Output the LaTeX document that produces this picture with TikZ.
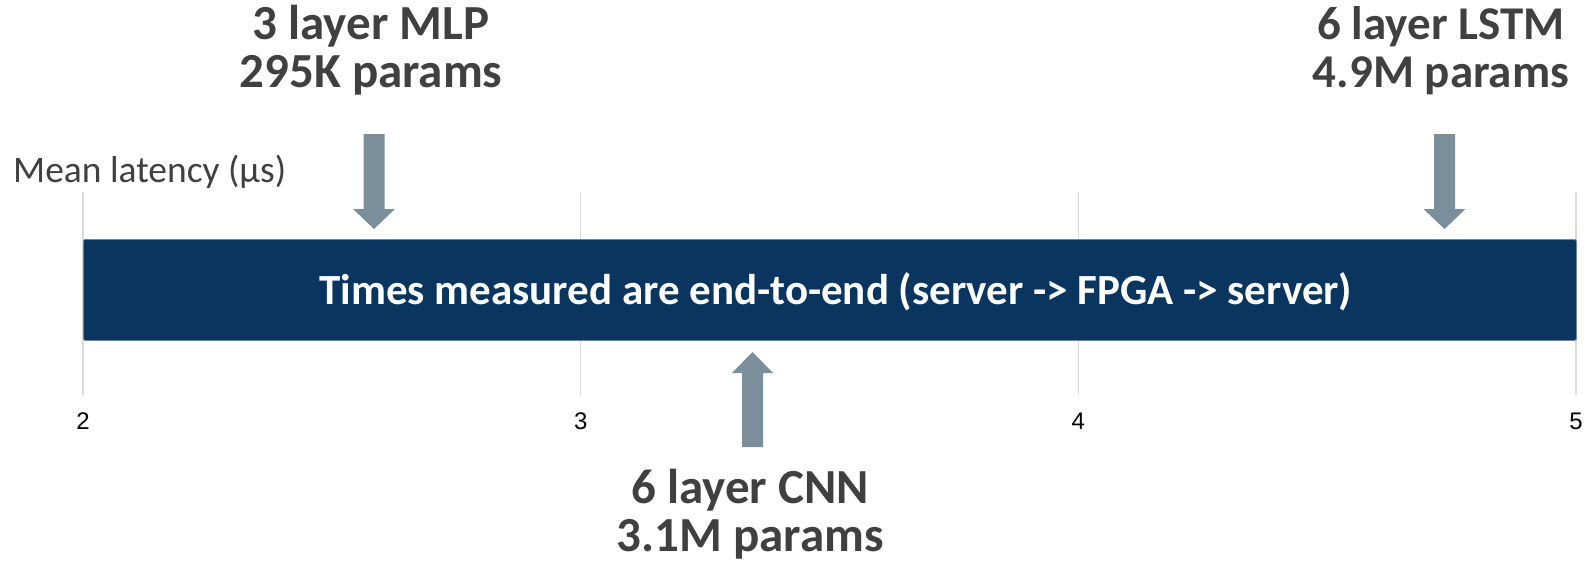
\documentclass[tikz,border=0pt]{standalone}
\usepackage{fontspec}
\setmainfont{Carlito}
\newfontfamily\axisfont{Liberation Sans}
\definecolor{navy}{HTML}{0A355F}
\definecolor{arrowgray}{HTML}{7A8F9B}
\definecolor{txtgray}{HTML}{404040}
\definecolor{gridgray}{HTML}{D9D9D9}
\begin{document}
\begin{tikzpicture}[x=1pt,y=-1pt,
  bigtxt/.style={anchor=base,inner sep=0pt,text=txtgray,font=\fontsize{49}{52}\selectfont\bfseries},
  ticklbl/.style={anchor=base,inner sep=0pt,text=black,font=\axisfont\fontsize{24}{26}\selectfont},
  grid/.style={draw=gridgray,line width=1.5pt},
  blockarrow/.style={fill=arrowgray}]
\useasboundingbox (0,0) rectangle (1587,568);
% gridlines
\foreach \x/\lab in {83/2,580.7/3,1078.3/4,1576/5}{
  \draw[grid] (\x,192) -- (\x,395);
  \node[ticklbl] (tick\lab) at (\x,429) {\lab};
}
% bar
\node[fill=navy,draw=navy!60!white,line width=0.8pt,rounded corners=2pt,minimum width=1493pt,minimum height=101pt,inner sep=0pt,anchor=north west] (bar) at (83,239) {};
\node[anchor=base,inner sep=0pt,text=white,font=\fontsize{43}{46}\selectfont\bfseries] (bartxt) at (836,304) {Times measured are end-to-end (server -> FPGA -> server)};
% axis title
\node[anchor=base west,inner sep=0pt,text=txtgray,font=\fontsize{37.5}{40}\selectfont] (axtitle) at (13,182) {Mean latency (µs)};
% labels
\node[bigtxt] (mlpa) at (371,39) {3 layer MLP};
\node[bigtxt] (mlpb) at (371,87) {295K params};
\node[bigtxt,font=\fontsize{47}{50}\selectfont\bfseries] (lstma) at (1441,39) {6 layer LSTM};
\node[bigtxt,font=\fontsize{47}{50}\selectfont\bfseries] (lstmb) at (1441,87) {4.9M params};
\node[bigtxt] (cnna) at (750,503) {6 layer CNN};
\node[bigtxt] (cnnb) at (750,551) {3.1M params};
% arrows
\fill[blockarrow] (363.5,134) -- (384.5,134) -- (384.5,209) -- (395,209) -- (374,229) -- (353,209) -- (363.5,209) -- cycle;
\fill[blockarrow] (1434,134) -- (1455,134) -- (1455,209) -- (1465.5,209) -- (1444.5,229) -- (1423.5,209) -- (1434,209) -- cycle;
\fill[blockarrow] (742,447) -- (763,447) -- (763,373) -- (773,373) -- (752.5,352) -- (732,373) -- (742,373) -- cycle;
\end{tikzpicture}
\end{document}
